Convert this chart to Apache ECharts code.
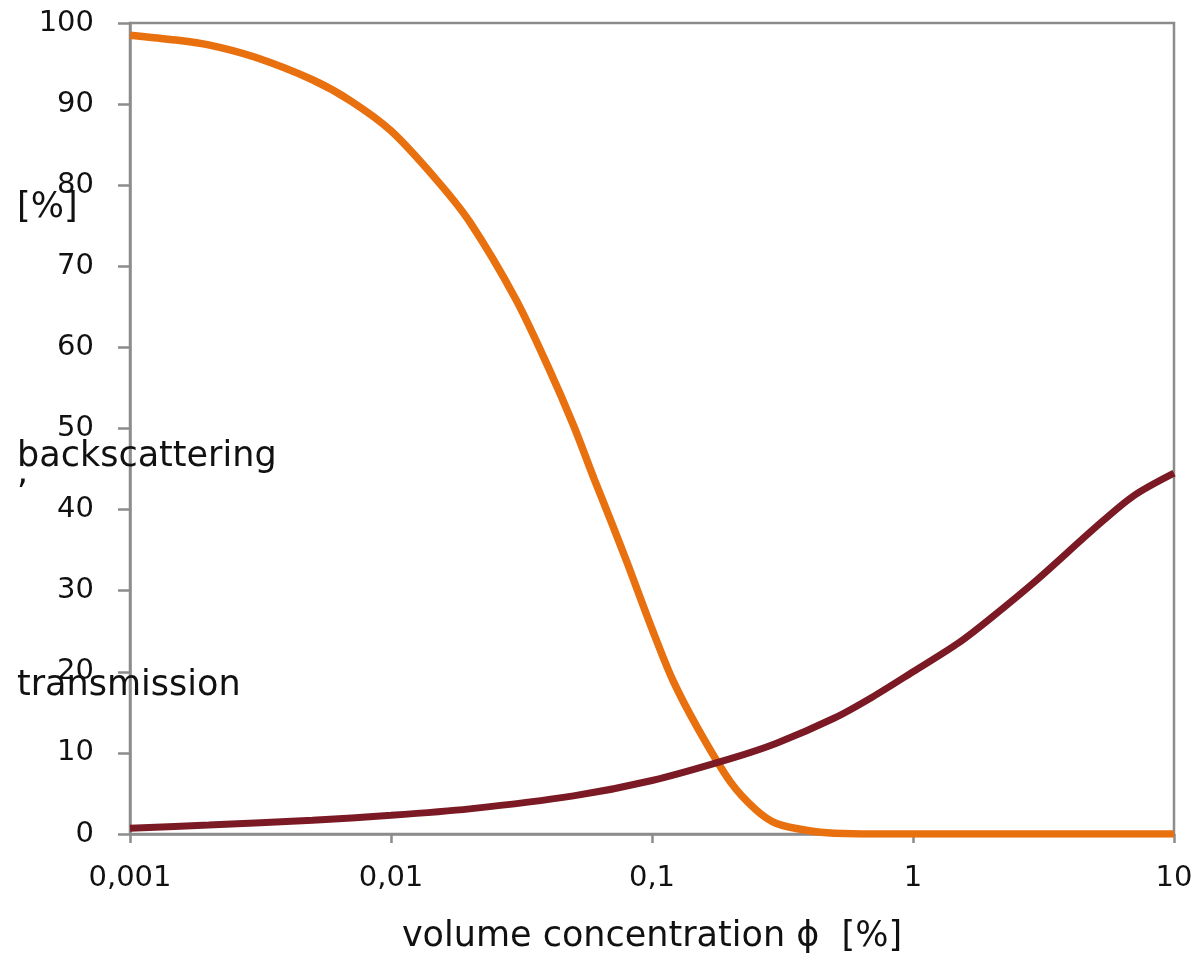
<!DOCTYPE html>
<html>
<head>
<meta charset="utf-8">
<script src="https://cdn.jsdelivr.net/npm/echarts@6/dist/echarts.min.js"></script>
<style>
html,body{margin:0;padding:0;background:#fff;overflow:hidden;}
#chart{width:1192px;height:956px;}
</style>
</head>
<body>
<div id="chart"></div>
<script>
// concentration [%] and read values [%]
const transX = [0.001,0.0015,0.002,0.003,0.005,0.007,0.01,0.015,0.02,0.03,0.04,0.05,0.06,0.07,0.08,0.1,0.12,0.15,0.2,0.25,0.3,0.4,0.5,0.7,1,2,5,10];
const transY = [98.5,97.9,97.3,95.8,93.0,90.4,86.7,80.6,75.5,66.0,57.6,50.4,43.8,38.4,33.6,25.3,19.0,13.0,6.4,3.0,1.3,0.4,0.1,0,0,0,0,0];
const backX = [0.001,0.002,0.005,0.01,0.02,0.05,0.1,0.2,0.3,0.5,0.7,1,1.5,2,3,5,7,10];
const backY = [0.7,1.1,1.7,2.3,3.1,4.7,6.6,9.3,11.2,14.3,16.9,20.0,23.6,26.7,31.4,37.8,41.7,44.5];
const xTickLabels = {0.001:'0,001',0.01:'0,01',0.1:'0,1',1:'1',10:'10'};
const xAxisTitle = 'volume concentration \u03d5  [%]';
const yTitleParts = ['[%]', 'backscattering', ',', 'transmission'];

const FONT = 'DejaVu Sans';
const TXT = '#111';
const chart = echarts.init(document.getElementById('chart'));
const zip = (xs, ys) => xs.map((x, i) => [x, ys[i]]);
const ttl = (t, top) => ({type: 'text', left: 17, top: top, z: 10,
  style: {text: t, font: '35px "' + FONT + '"', fill: TXT}});
chart.setOption({
  animation: false,
  backgroundColor: '#fff',
  grid: {left: 130, right: 18, top: 23, bottom: 122, outerBoundsMode: 'none', containLabel: false,
         show: true, borderColor: '#8c8c8c', borderWidth: 2.5, backgroundColor: 'transparent'},
  xAxis: {
    type: 'log', logBase: 10, min: 0.001, max: 10,
    name: xAxisTitle, nameLocation: 'middle', nameGap: 85,
    nameTextStyle: {fontFamily: FONT, fontSize: 35, color: TXT},
    axisLine: {lineStyle: {color: '#8c8c8c', width: 2.5}},
    axisTick: {show: true, length: 9, lineStyle: {color: '#8c8c8c', width: 2.5}},
    axisLabel: {fontFamily: FONT, fontSize: 29, color: TXT, margin: 30,
      formatter: v => xTickLabels[v] !== undefined ? xTickLabels[v] : String(v).replace('.', ',')},
    splitLine: {show: false}, minorTick: {show: false}
  },
  yAxis: {
    type: 'value', min: 0, max: 100, interval: 10,
    axisLine: {show: true, lineStyle: {color: '#8c8c8c', width: 2.5}},
    axisTick: {show: true, length: 12, lineStyle: {color: '#8c8c8c', width: 2.5}},
    axisLabel: {fontFamily: FONT, fontSize: 29, color: TXT, margin: 36},
    splitLine: {show: false}
  },
  graphic: [
    ttl(yTitleParts[0], 190),
    ttl(yTitleParts[1], 439),
    ttl(yTitleParts[2], 456),
    ttl(yTitleParts[3], 668)
  ],
  series: [
    {name: 'transmission', type: 'line', data: zip(transX, transY), smooth: 0.3, showSymbol: false,
     lineStyle: {color: '#E8700E', width: 7.5}, z: 3},
    {name: 'backscattering', type: 'line', data: zip(backX, backY), smooth: 0.3, showSymbol: false,
     lineStyle: {color: '#7B1A24', width: 7}, z: 4}
  ]
});
</script>
</body>
</html>
